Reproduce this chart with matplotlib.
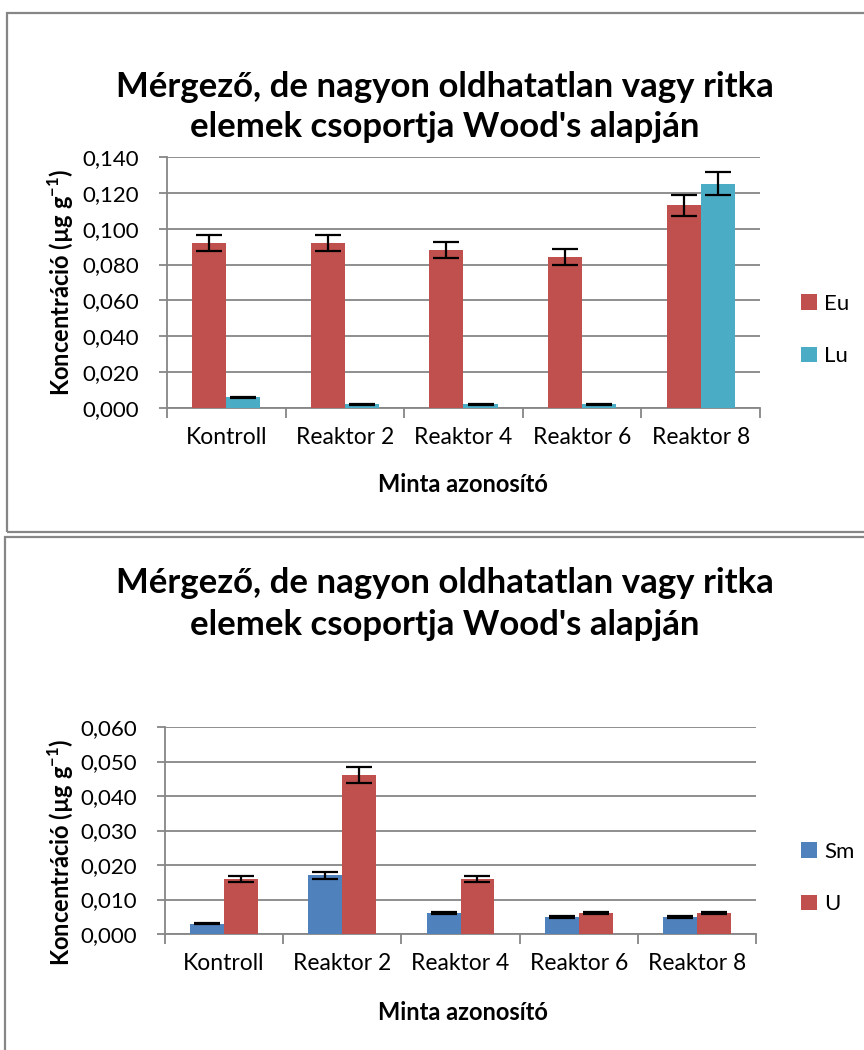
import matplotlib
matplotlib.use("Agg")
import matplotlib.pyplot as plt
from matplotlib.patches import Rectangle, Patch
import numpy as np

plt.rcParams['font.family'] = ['Lato', 'DejaVu Sans']
plt.rcParams['mathtext.fontset'] = 'custom'
plt.rcParams['mathtext.rm'] = 'Lato'
plt.rcParams['mathtext.bf'] = 'Lato:bold'

categories = ["Kontroll", "Reaktor 2", "Reaktor 4", "Reaktor 6", "Reaktor 8"]

eu = [0.092, 0.092, 0.088, 0.084, 0.113]
eu_err = [0.0046, 0.0046, 0.0045, 0.0045, 0.0058]
lu = [0.006, 0.002, 0.002, 0.002, 0.125]
lu_err = [0.0003, 0.0002, 0.0002, 0.0002, 0.0064]

sm = [0.003, 0.017, 0.006, 0.005, 0.005]
sm_err = [0.0002, 0.001, 0.0003, 0.0003, 0.0003]
u = [0.016, 0.046, 0.016, 0.006, 0.006]
u_err = [0.0009, 0.0023, 0.0008, 0.0003, 0.0003]

top_ticks = [0.0, 0.02, 0.04, 0.06, 0.08, 0.10, 0.12, 0.14]
bot_ticks = [0.0, 0.01, 0.02, 0.03, 0.04, 0.05, 0.06]

RED = "#C0504D"
CYAN = "#4BACC6"
BLUE = "#4F81BD"
GRID = "#868686"

W, H = 864, 1050
fig = plt.figure(figsize=(W / 100, H / 100), dpi=100)


def fx(px):
    return px / W


def fy(py):
    return 1 - py / H


# frames
fig.patches.append(Rectangle((fx(7), fy(532)), fx(900), fy(13) - fy(532),
                             transform=fig.transFigure, fill=False,
                             edgecolor=GRID, lw=1.6))
fig.patches.append(Rectangle((fx(5), fy(1100)), fx(900), fy(537) - fy(1100),
                             transform=fig.transFigure, fill=False,
                             edgecolor=GRID, lw=1.6))

title1 = "Mérgező, de nagyon oldhatatlan vagy ritka"
title2 = "elemek csoportja Wood's alapján"
ylab = "Koncentráció (µg g$^{\\mathbf{-1}}$)"
xlab = "Minta azonosító"


def fmt(v):
    return ("%.3f" % v).replace(".", ",")


def panel(box, s1, e1, c1, n1, s2, e2, c2, n2, yticks, title_y, xlab_y,
          leg_y, ylab_y):
    l, t, r, b = box
    ax = fig.add_axes([fx(l), fy(b), fx(r) - fx(l), fy(t) - fy(b)])
    x = np.arange(len(categories)) + 0.5
    bw = 0.287
    ekw = dict(ecolor="black", elinewidth=1.6, capthick=1.6, capsize=9.5)
    ax.bar(x - bw / 2, s1, bw, color=c1, yerr=e1, error_kw=ekw, zorder=3, label=n1)
    ax.bar(x + bw / 2, s2, bw, color=c2, yerr=e2, error_kw=ekw, zorder=3, label=n2)
    ax.set_xlim(0, len(categories))
    ax.set_ylim(yticks[0], yticks[-1])
    ax.set_yticks(yticks)
    ax.set_yticklabels([fmt(v) for v in yticks], fontsize=16)
    ax.set_xticks(np.arange(len(categories) + 1))
    ax.set_xticklabels([])
    ax.set_xticks(x, minor=True)
    ax.set_xticklabels(categories, minor=True, fontsize=16.5)
    ax.tick_params(axis="x", which="major", length=7, width=1.3, color=GRID, direction="out")
    ax.tick_params(axis="x", which="minor", length=0, pad=14)
    ax.tick_params(axis="y", length=6, width=1.3, color=GRID, pad=14)
    ax.grid(axis="y", color=GRID, lw=1.3, zorder=0)
    for s in ["top", "right"]:
        ax.spines[s].set_visible(False)
    for s in ["left", "bottom"]:
        ax.spines[s].set_color(GRID)
        ax.spines[s].set_linewidth(1.3)
    ax.set_axisbelow(True)
    fig.text(fx(445), fy(title_y[0]), title1, ha="center", va="center",
             fontsize=25, fontweight="bold")
    fig.text(fx(445), fy(title_y[1]), title2, ha="center", va="center",
             fontsize=25, fontweight="bold")
    fig.text(fx(463), fy(xlab_y), xlab, ha="center", va="center",
             fontsize=17, fontweight="bold")
    fig.text(fx(61), fy(ylab_y), ylab, ha="center", va="center",
             rotation=90, fontsize=17, fontweight="bold")
    handles = [Patch(facecolor=c1, label=n1), Patch(facecolor=c2, label=n2)]
    fig.legend(handles=handles, loc="center left",
               bbox_to_anchor=(fx(801), fy(leg_y)), frameon=False,
               fontsize=16, handlelength=0.7, handleheight=0.7,
               handletextpad=0.35, labelspacing=1.45, borderaxespad=0,
               borderpad=0)
    return ax


panel((167, 157, 760, 408), eu, eu_err, RED, "Eu", lu, lu_err, CYAN, "Lu",
      top_ticks, (87, 127), 485, 330, 282)
panel((165, 727, 756, 934), sm, sm_err, BLUE, "Sm", u, u_err, RED, "U",
      bot_ticks, (583, 625), 1012, 878, 852)

fig.savefig("out.png", dpi=100)
